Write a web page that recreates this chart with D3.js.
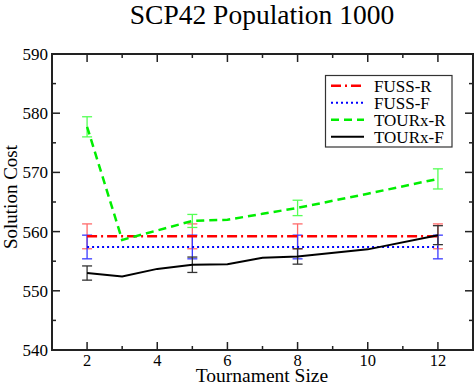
<!DOCTYPE html>
<html>
<head>
<meta charset="utf-8">
<script src="https://cdn.jsdelivr.net/npm/d3@7"></script>
<style>
  body { margin: 0; background: #fff; }
  text { font-family: "Liberation Serif", "Times New Roman", serif; }
</style>
</head>
<body>
<div id="chart"></div>
<script>
const W = 476
const H = 388

// series data: tournament size -> solution cost
const fussRx = [2, 12]
const fussRy = [559.2, 559.2]
const fussRerr = [[2, 559.2, 2.1], [5, 559.2, 2.1], [8, 559.2, 2.1], [12, 559.2, 2.1]]

const fussFx = [2, 12]
const fussFy = [557.4, 557.4]
const fussFerr = [[2, 557.4, 2.0], [5, 557.4, 2.0], [8, 557.4, 2.0], [12, 557.4, 2.0]]

const tourRx = [2, 3, 4, 5, 6, 7, 8, 10, 12]
const tourRy = [577.7, 558.6, 560.2, 561.8, 562.0, 563.0, 564.0, 566.4, 568.9]
const tourRerr = [[2, 577.7, 1.7], [5, 561.8, 1.1], [8, 564.0, 1.3], [12, 568.9, 1.7]]

const tourFx = [2, 3, 4, 5, 6, 7, 8, 10, 12]
const tourFy = [553.0, 552.4, 553.7, 554.4, 554.5, 555.6, 555.8, 557.0, 559.4]
const tourFerr = [[2, 553.0, 1.2], [5, 554.4, 1.3], [8, 555.8, 1.3], [12, 559.4, 1.6]]

const legendLabels = ['FUSS-R', 'FUSS-F', 'TOURx-R', 'TOURx-F']
const xTicks = [2, 4, 6, 8, 10, 12]
const yTicks = [540, 550, 560, 570, 580, 590]

const margin = { left: 52, right: 3, top: 54, bottom: 38 }

const svg = d3.select('#chart').append('svg').attr('width', W).attr('height', H)

const x = d3.scaleLinear([1, 13], [margin.left, W - margin.right])
const y = d3.scaleLinear([540, 590], [H - margin.bottom, margin.top])

const series = [
  { xs: fussRx, ys: fussRy, err: fussRerr, color: '#ff0000', errColor: '#ff6b6b', dash: '10,4,2,4', width: 2.5 },
  { xs: fussFx, ys: fussFy, err: fussFerr, color: '#0000ff', errColor: '#3a3aff', dash: '2,3', width: 2 },
  { xs: tourRx, ys: tourRy, err: tourRerr, color: '#00ee00', errColor: '#55ff55', dash: '8,5', width: 2.5 },
  { xs: tourFx, ys: tourFy, err: tourFerr, color: '#000000', errColor: '#333333', dash: null, width: 2 }
]

// error bars
series.forEach((s) => {
  const g = svg.append('g').attr('stroke', s.errColor).attr('stroke-width', 1.3)
  s.err.forEach(([ex, ey, e]) => {
    g.append('line').attr('x1', x(ex)).attr('x2', x(ex)).attr('y1', y(ey - e)).attr('y2', y(ey + e))
    ;[ey - e, ey + e].forEach((v) => {
      g.append('line').attr('x1', x(ex) - 5).attr('x2', x(ex) + 5).attr('y1', y(v)).attr('y2', y(v))
    })
  })
})

const line = d3.line().x((d) => x(d[0])).y((d) => y(d[1]))

series.forEach((s) => {
  svg.append('path')
    .attr('d', line(s.xs.map((v, i) => [v, s.ys[i]])))
    .attr('fill', 'none')
    .attr('stroke', s.color)
    .attr('stroke-width', s.width)
    .attr('stroke-dasharray', s.dash)
})

// frame + inside ticks on all sides
const frame = svg.append('g')
frame.append('rect')
  .attr('x', x(1)).attr('y', y(590))
  .attr('width', x(13) - x(1)).attr('height', y(540) - y(590))
  .attr('fill', 'none').attr('stroke', '#222').attr('stroke-width', 2)

const xMinor = d3.range(3, 13, 2)
const yMinor = d3.range(545, 590, 10)
const tickG = frame.append('g').attr('stroke', '#222').attr('stroke-width', 1.5)
const addX = (vals, len) => vals.forEach((v) => {
  tickG.append('line').attr('x1', x(v)).attr('x2', x(v)).attr('y1', y(540)).attr('y2', y(540) - len)
  tickG.append('line').attr('x1', x(v)).attr('x2', x(v)).attr('y1', y(590)).attr('y2', y(590) + len)
})
const addY = (vals, len) => vals.forEach((v) => {
  tickG.append('line').attr('x1', x(1)).attr('x2', x(1) + len).attr('y1', y(v)).attr('y2', y(v))
  tickG.append('line').attr('x1', x(13)).attr('x2', x(13) - len).attr('y1', y(v)).attr('y2', y(v))
})
addX(xTicks, 8)
addX(xMinor, 4)
addY(yTicks.slice(1, -1), 8)
addY(yMinor, 4)

svg.append('g').selectAll('text').data(xTicks).join('text')
  .attr('x', (d) => x(d)).attr('y', y(540) + 16)
  .attr('text-anchor', 'middle').attr('font-size', 16.5)
  .text((d) => d)

svg.append('g').selectAll('text').data(yTicks).join('text')
  .attr('x', x(1) - 4).attr('y', (d) => y(d) + 6)
  .attr('text-anchor', 'end').attr('font-size', 17)
  .text((d) => d)

svg.append('text').attr('x', 262).attr('y', 382)
  .attr('text-anchor', 'middle').attr('font-size', 19.5).text('Tournament Size')

svg.append('text').attr('transform', 'translate(17,197) rotate(-90)')
  .attr('text-anchor', 'middle').attr('font-size', 19).text('Solution Cost')

svg.append('text').attr('x', 262).attr('y', 24)
  .attr('text-anchor', 'middle').attr('font-size', 27.5).text('SCP42 Population 1000')

// legend
const leg = svg.append('g')
leg.append('rect').attr('x', 325.5).attr('y', 75.5).attr('width', 126.5).attr('height', 71.5)
  .attr('fill', '#fff').attr('stroke', '#333').attr('stroke-width', 1.2)
legendLabels.forEach((lab, i) => {
  const ly = 85.7 + i * 17
  const s = series[i]
  leg.append('line').attr('x1', 331).attr('x2', 364).attr('y1', ly).attr('y2', ly)
    .attr('stroke', s.color).attr('stroke-width', s.width).attr('stroke-dasharray', s.dash)
  leg.append('text').attr('x', 374).attr('y', ly + 6).attr('font-size', 17).text(lab)
})
</script>
</body>
</html>
